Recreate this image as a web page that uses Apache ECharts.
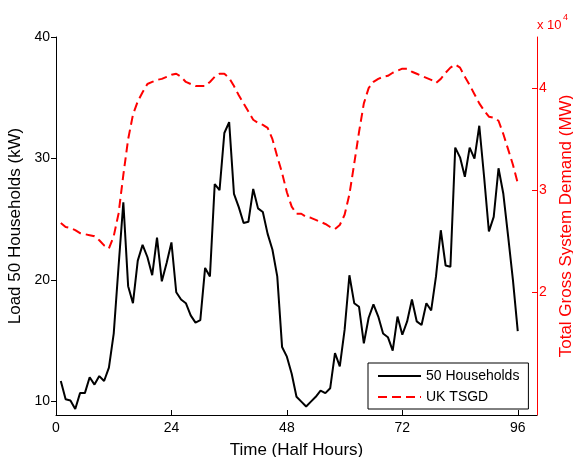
<!DOCTYPE html>
<html>
<head>
<meta charset="utf-8">
<script src="https://cdn.jsdelivr.net/npm/echarts@6/dist/echarts.min.js"></script>
<style>
html,body{margin:0;padding:0;background:#fff;}
#chart{width:573px;height:457px;}
</style>
</head>
<body>
<div id="chart"></div>
<script>
const halfHours = [1,2,3,4,5,6,7,8,9,10,11,12,13,14,15,16,17,18,19,20,21,22,23,24,
  25,26,27,28,29,30,31,32,33,34,35,36,37,38,39,40,41,42,43,44,45,46,47,48,
  49,50,51,52,53,54,55,56,57,58,59,60,61,62,63,64,65,66,67,68,69,70,71,72,
  73,74,75,76,77,78,79,80,81,82,83,84,85,86,87,88,89,90,91,92,93,94,95,96];

const households = [11.7,10.2,10.1,9.4,10.7,10.7,12.0,11.4,12.1,11.7,12.8,15.6,
  21.1,26.4,19.5,18.1,21.6,22.9,21.9,20.4,23.5,19.9,21.4,23.1,
  19.0,18.4,18.1,17.1,16.5,16.7,21.0,20.3,27.9,27.4,32.1,33.0,
  27.1,26.0,24.7,24.8,27.5,25.9,25.6,23.8,22.5,20.3,14.5,13.7,
  12.3,10.4,10.0,9.6,10.0,10.4,10.9,10.7,11.1,14.0,12.9,15.9,
  20.4,18.1,17.8,14.8,16.9,18.0,17.0,15.6,15.3,14.2,17.0,15.5,
  16.6,18.4,16.6,16.3,18.1,17.5,20.3,24.1,21.2,21.1,30.9,30.1,
  28.5,30.9,30.0,32.7,28.5,24.0,25.2,29.2,27.1,23.6,20.0,15.8];

const tsgd = [26800,26400,26300,26100,25800,25700,25600,25500,25100,24600,24300,25500,
  27700,31500,35000,37400,38700,39600,40400,40600,40800,40900,41100,41300,
  41400,41100,40600,40400,40200,40200,40200,40600,41100,41400,41400,41000,
  40200,39300,38500,37700,36900,36600,36400,36100,35000,33300,31700,29800,
  28400,27700,27700,27400,27300,27100,26900,26700,26400,26200,26600,27600,
  29600,32600,35700,38500,40000,40600,40900,41100,41200,41500,41700,41900,
  41900,41600,41400,41200,41000,40800,40500,40900,41500,42000,42300,42000,
  41100,40300,39400,38500,37800,37200,37100,36800,35500,34000,32500,30700];

const xTicks = [0,24,48,72,96];
const leftTicks = [10,20,30,40];
const rightTicks = [20000,30000,40000];

const seriesNames = ['50 Households','UK TSGD'];
const titles = {x:'Time (Half Hours)', yLeft:'Load 50 Households (kW)', yRight:'Total Gross System Demand (MW)'};

const FONT = '"Liberation Sans", Arial, Helvetica, sans-serif';
const RED = '#ff0000';

const chart = echarts.init(document.getElementById('chart'), null, {renderer:'canvas'});
chart.setOption({
  animation: false,
  backgroundColor: '#fff',
  textStyle: {fontFamily: FONT},
  grid: {left: 56, right: 36, top: 37, bottom: 42, containLabel: false, outerBoundsMode: 'none'},
  xAxis: {
    type: 'value', min: 0, max: 100,
    name: titles.x, nameLocation: 'middle', nameGap: 27,
    nameTextStyle: {fontSize: 17, color: '#000', fontFamily: FONT},
    axisLine: {show: true, onZero: false, lineStyle: {color: '#000', width: 1}},
    axisTick: {show: true, inside: true, length: 5, customValues: xTicks, lineStyle: {color: '#000'}},
    axisLabel: {customValues: xTicks, fontSize: 14, color: '#000', margin: 6, fontFamily: FONT},
    splitLine: {show: false}
  },
  yAxis: [
    {
      type: 'value', min: 8.9, max: 40, position: 'left',
      name: titles.yLeft, nameLocation: 'middle', nameGap: 25, nameRotate: 90,
      nameTextStyle: {fontSize: 17, color: '#000', fontFamily: FONT},
      axisLine: {show: true, lineStyle: {color: '#000', width: 1}},
      axisTick: {show: true, inside: false, length: 5, customValues: leftTicks, lineStyle: {color: '#000'}},
      axisLabel: {customValues: leftTicks, fontSize: 14, color: '#000', margin: 6, fontFamily: FONT},
      splitLine: {show: false}
    },
    {
      type: 'value', min: 8000, max: 45000, position: 'right',
      name: titles.yRight, nameLocation: 'middle', nameGap: 16, nameRotate: 90,
      nameTextStyle: {fontSize: 17, color: RED, fontFamily: FONT},
      axisLine: {show: true, lineStyle: {color: RED, width: 1}},
      axisTick: {show: true, inside: true, length: 5, customValues: rightTicks, lineStyle: {color: RED}},
      axisLabel: {customValues: rightTicks, fontSize: 14, color: RED, margin: 2, fontFamily: FONT,
        formatter: v => String(v / 10000)},
      splitLine: {show: false}
    }
  ],
  legend: {
    left: 368, top: 363, orient: 'vertical',
    itemWidth: 43, itemHeight: 14, itemGap: 7,
    padding: [6, 9, 5, 9],
    borderColor: '#000', borderWidth: 1, backgroundColor: '#fff',
    itemStyle: {opacity: 0, borderWidth: 0},
    textStyle: {fontSize: 14, color: '#000', fontFamily: FONT},
    data: seriesNames
  },
  graphic: [
    {type: 'text', x: 537, y: 25, style: {text: 'x 10', fill: RED, font: '13px ' + FONT, verticalAlign: 'middle', align: 'left'}},
    {type: 'text', x: 563, y: 18, style: {text: '4', fill: RED, font: '9px ' + FONT, verticalAlign: 'middle', align: 'left'}}
  ],
  series: [
    {
      name: seriesNames[0], type: 'line', yAxisIndex: 0,
      data: halfHours.map((h, i) => [h, households[i]]),
      symbol: 'none', showSymbol: false,
      lineStyle: {color: '#000', width: 2},
      itemStyle: {color: '#000'},
      z: 3
    },
    {
      name: seriesNames[1], type: 'line', yAxisIndex: 1,
      data: halfHours.map((h, i) => [h, tsgd[i]]),
      symbol: 'none', showSymbol: false,
      lineStyle: {color: RED, width: 2, type: [9, 5]},
      itemStyle: {color: RED},
      z: 2
    }
  ]
});
</script>
</body>
</html>
